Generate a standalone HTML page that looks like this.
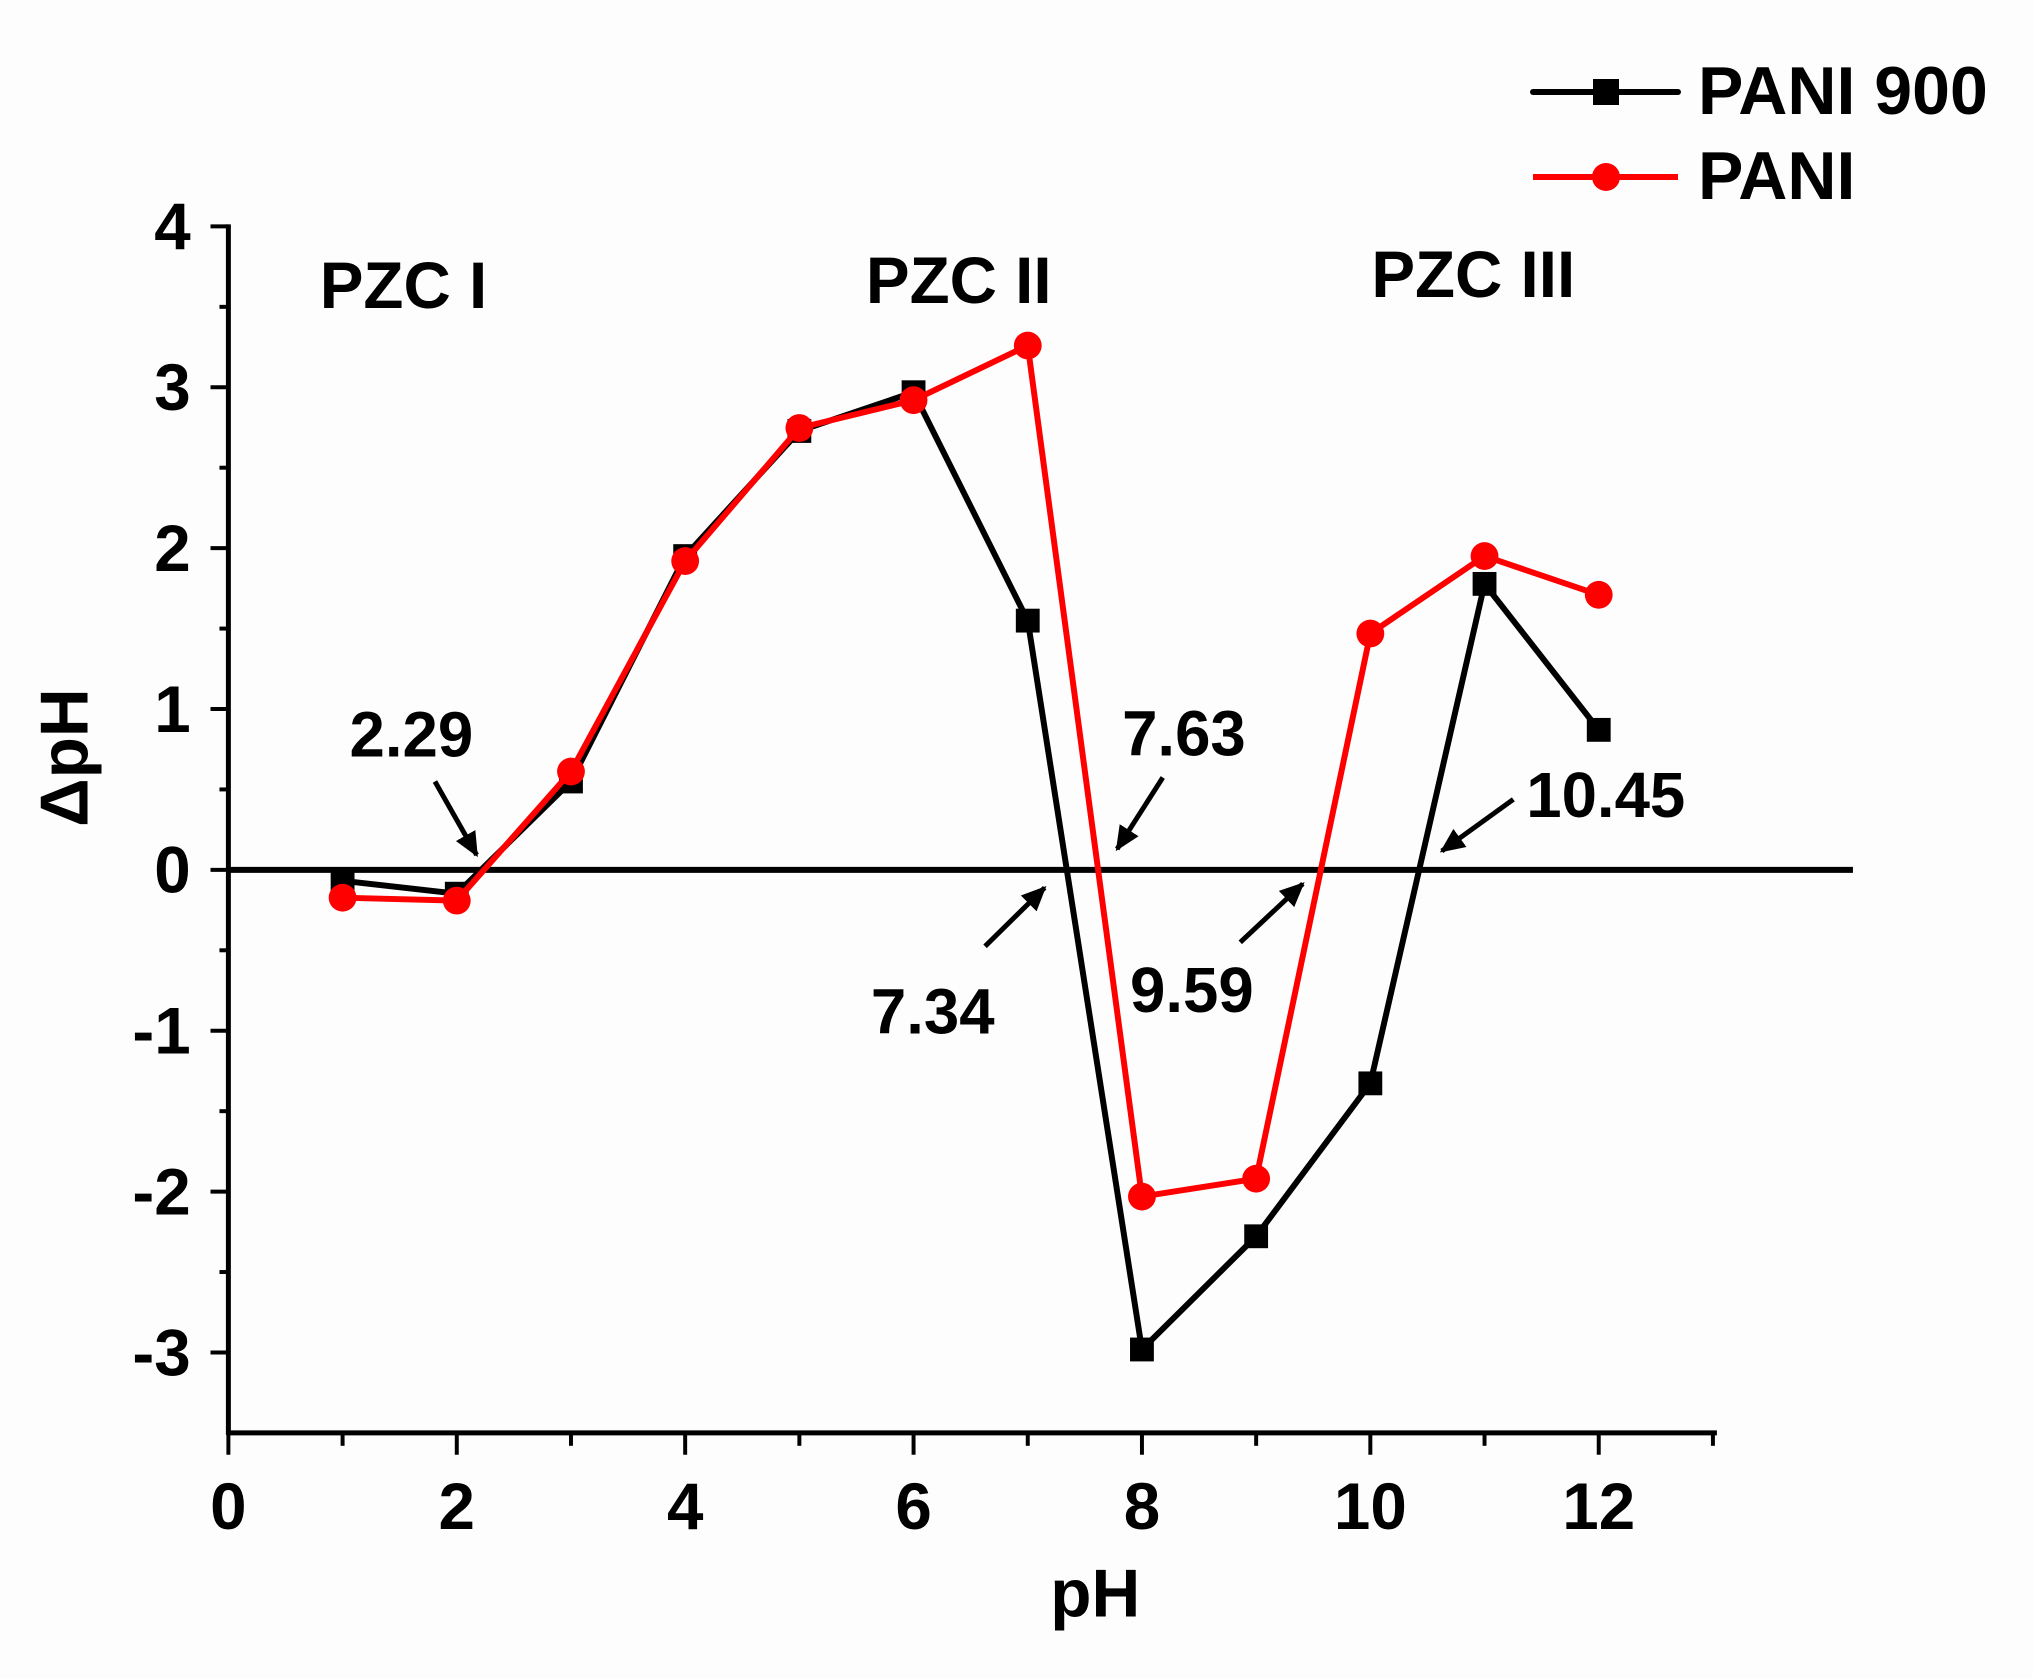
<!DOCTYPE html>
<html><head><meta charset="utf-8"><style>
html,body{margin:0;padding:0;background:#fdfdfd;}
svg{display:block;}
text{font-family:"Liberation Sans",Arial,sans-serif;font-weight:bold;fill:#000;}
</style></head><body>
<svg width="2033" height="1678" viewBox="0 0 2033 1678" xmlns="http://www.w3.org/2000/svg">
<rect width="2033" height="1678" fill="#fdfdfd"/>
<defs>
<marker id="ah" viewBox="0 0 10 10" refX="9" refY="5" markerWidth="5" markerHeight="5" orient="auto"><path d="M0,0.5 L10,5 L0,9.5 z" fill="#000"/></marker>
</defs>
<g transform="scale(0.993)">
<!-- axes -->
<g stroke="#000" stroke-width="5" fill="none">
<line x1="230" y1="226" x2="230" y2="1445"/>
<line x1="228" y1="1443" x2="1729" y2="1443"/>
</g>
<g stroke="#000" stroke-width="4">
<line x1="212" y1="228" x2="230" y2="228"/>
<line x1="212" y1="390" x2="230" y2="390"/>
<line x1="212" y1="552" x2="230" y2="552"/>
<line x1="212" y1="714" x2="230" y2="714"/>
<line x1="212" y1="876" x2="230" y2="876"/>
<line x1="212" y1="1038" x2="230" y2="1038"/>
<line x1="212" y1="1200" x2="230" y2="1200"/>
<line x1="212" y1="1362" x2="230" y2="1362"/>
<line x1="221" y1="309" x2="230" y2="309"/>
<line x1="221" y1="471" x2="230" y2="471"/>
<line x1="221" y1="633" x2="230" y2="633"/>
<line x1="221" y1="795" x2="230" y2="795"/>
<line x1="221" y1="957" x2="230" y2="957"/>
<line x1="221" y1="1119" x2="230" y2="1119"/>
<line x1="221" y1="1281" x2="230" y2="1281"/>
<line x1="230" y1="1443" x2="230" y2="1465"/>
<line x1="345" y1="1443" x2="345" y2="1456"/>
<line x1="460" y1="1443" x2="460" y2="1465"/>
<line x1="575" y1="1443" x2="575" y2="1456"/>
<line x1="690" y1="1443" x2="690" y2="1465"/>
<line x1="805" y1="1443" x2="805" y2="1456"/>
<line x1="920" y1="1443" x2="920" y2="1465"/>
<line x1="1035" y1="1443" x2="1035" y2="1456"/>
<line x1="1150" y1="1443" x2="1150" y2="1465"/>
<line x1="1265" y1="1443" x2="1265" y2="1456"/>
<line x1="1380" y1="1443" x2="1380" y2="1465"/>
<line x1="1495" y1="1443" x2="1495" y2="1456"/>
<line x1="1610" y1="1443" x2="1610" y2="1465"/>
<line x1="1725" y1="1443" x2="1725" y2="1456"/>
</g>
<line x1="230" y1="876" x2="1866" y2="876" stroke="#000" stroke-width="6"/>
<g font-size="66" text-anchor="end">
<text x="192" y="251">4</text>
<text x="192" y="413">3</text>
<text x="192" y="575">2</text>
<text x="192" y="737">1</text>
<text x="192" y="899">0</text>
<text x="192" y="1061">-1</text>
<text x="192" y="1223">-2</text>
<text x="192" y="1385">-3</text>
</g>
<g font-size="66" text-anchor="middle">
<text x="230" y="1540">0</text>
<text x="460" y="1540">2</text>
<text x="690" y="1540">4</text>
<text x="920" y="1540">6</text>
<text x="1150" y="1540">8</text>
<text x="1380" y="1540">10</text>
<text x="1610" y="1540">12</text>
</g>
<text x="1103" y="1628" font-size="68" text-anchor="middle">pH</text>
<text transform="translate(88,763) rotate(-90)" font-size="68" text-anchor="middle">ΔpH</text>
<polyline fill="none" stroke="#000" stroke-width="6" stroke-linejoin="round" points="345,887 460,900 575,787 690,560 805,434 920,395 1035,625 1150,1359 1265,1245 1380,1091 1495,588 1610,735"/>
<g fill="#000">
<rect x="333" y="875" width="24" height="24"/><rect x="448" y="888" width="24" height="24"/><rect x="563" y="775" width="24" height="24"/><rect x="678" y="548" width="24" height="24"/><rect x="793" y="422" width="24" height="24"/><rect x="908" y="383" width="24" height="24"/><rect x="1023" y="613" width="24" height="24"/><rect x="1138" y="1347" width="24" height="24"/><rect x="1253" y="1233" width="24" height="24"/><rect x="1368" y="1079" width="24" height="24"/><rect x="1483" y="576" width="24" height="24"/><rect x="1598" y="723" width="24" height="24"/>
</g>
<polyline fill="none" stroke="#f00" stroke-width="6" stroke-linejoin="round" points="345,904 460,907 575,777 690,565 805,431 920,403 1035,348 1150,1205 1265,1187 1380,638 1495,560 1610,599"/>
<g fill="#f00">
<circle cx="345" cy="904" r="14"/><circle cx="460" cy="907" r="14"/><circle cx="575" cy="777" r="14"/><circle cx="690" cy="565" r="14"/><circle cx="805" cy="431" r="14"/><circle cx="920" cy="403" r="14"/><circle cx="1035" cy="348" r="14"/><circle cx="1150" cy="1205" r="14"/><circle cx="1265" cy="1187" r="14"/><circle cx="1380" cy="638" r="14"/><circle cx="1495" cy="560" r="14"/><circle cx="1610" cy="599" r="14"/>
</g>
<g font-size="66">
<text x="322" y="310">PZC I</text>
<text x="872" y="305">PZC II</text>
<text x="1381" y="299">PZC III</text>
</g>
<g font-size="64">
<text x="352" y="762">2.29</text>
<text x="1130" y="761">7.63</text>
<text x="1537" y="823">10.45</text>
<text x="877" y="1041">7.34</text>
<text x="1138" y="1019">9.59</text>
</g>
<g stroke="#000" stroke-width="5" marker-end="url(#ah)">
<line x1="438" y1="787" x2="480" y2="861"/>
<line x1="1171" y1="783" x2="1125" y2="855"/>
<line x1="1524" y1="805" x2="1452" y2="857"/>
<line x1="992" y1="953" x2="1052" y2="894"/>
<line x1="1249" y1="949" x2="1312" y2="890"/>
</g>
</g>
<line x1="1533" y1="92" x2="1678" y2="92" stroke="#000" stroke-width="6" stroke-linecap="round"/>
<rect x="1593" y="79" width="26" height="26" fill="#000"/>
<text x="1698" y="114" font-size="68">PANI 900</text>
<line x1="1533" y1="177" x2="1678" y2="177" stroke="#f00" stroke-width="6"/>
<circle cx="1606" cy="177" r="14" fill="#f00"/>
<text x="1698" y="199" font-size="68">PANI</text>
</svg>
</body></html>
